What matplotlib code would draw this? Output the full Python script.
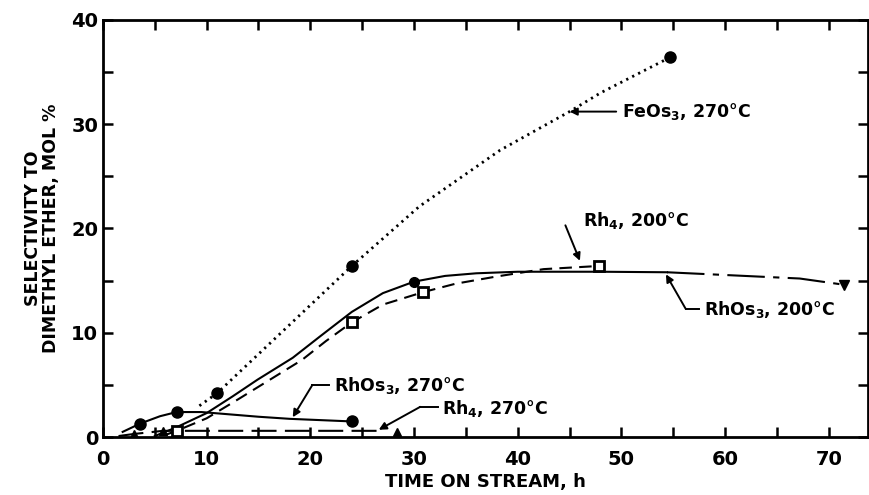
import matplotlib
matplotlib.use('Agg')
import matplotlib.pyplot as plt
from matplotlib.ticker import MultipleLocator

# marker data (time on stream, h / selectivity, mol %)
fe_pts_x = [11, 24, 54.7]
fe_pts_y = [4.2, 16.4, 36.4]
rhos200_pts_x = [30, 71.5]
rhos200_pts_y = [14.9, 14.6]
rh200_pts_x = [7.1, 24, 30.9, 47.8]
rh200_pts_y = [0.6, 11.0, 13.9, 16.4]
rhos270_pts_x = [3.6, 7.1, 24]
rhos270_pts_y = [1.3, 2.4, 1.5]
rh270_pts_x = [3.0, 5.8, 28.4]
rh270_pts_y = [0.3, 0.6, 0.5]

# hand drawn curves
fe_cx = [9.3, 11, 17.5, 24, 30.5, 38.3, 45, 48, 54.7]
fe_cy = [3.0, 4.2, 10.3, 16.4, 22.1, 27.5, 31.2, 33.0, 36.4]
rhos200_cx = [5.0, 7, 10, 12.5, 14.9, 18.3, 21, 24, 27, 30, 33, 36, 40, 48, 54.4]
rhos200_cy = [0.1, 0.9, 2.3, 3.9, 5.5, 7.6, 9.7, 12.0, 13.8, 14.9, 15.45, 15.7, 15.85, 15.85, 15.8]
rhos200_tx = [54.4, 60.8, 67.2, 71.5]
rhos200_ty = [15.8, 15.5, 15.2, 14.6]
rh200_cx = [6.0, 7.1, 10, 13, 16.1, 19.2, 21.5, 24, 27, 30.9, 34, 38, 42.5, 47.8]
rh200_cy = [0.2, 0.6, 1.8, 3.6, 5.5, 7.4, 9.2, 11.0, 12.7, 13.9, 14.7, 15.4, 16.1, 16.4]
rhos270_cx = [1.9, 3.6, 5.5, 7.1, 9.5, 15, 18, 24]
rhos270_cy = [0.5, 1.3, 2.0, 2.4, 2.4, 1.95, 1.75, 1.5]
rh270_cx = [1.5, 3.0, 5.8, 10, 20, 27]
rh270_cy = [0.1, 0.3, 0.6, 0.6, 0.6, 0.6]

fig = plt.figure(figsize=(8.69, 4.95), dpi=100)
ax = fig.add_axes([0.1185, 0.117, 0.8805, 0.843])

k = 'black'
ax.plot(fe_cx, fe_cy, color=k, lw=2.0, linestyle=(0, (0.8, 1.6)))
ax.plot(rhos200_cx, rhos200_cy, color=k, lw=1.5)
ax.plot(rhos200_tx, rhos200_ty, color=k, lw=1.5, linestyle=(0, (18, 4, 3, 4)))
ax.plot(rh200_cx, rh200_cy, color=k, lw=1.5, linestyle=(0, (6, 3.5)))
ax.plot(rhos270_cx, rhos270_cy, color=k, lw=1.5)
ax.plot(rh270_cx, rh270_cy, color=k, lw=1.5, linestyle=(0, (12, 4)))

ax.plot(fe_pts_x, fe_pts_y, 'o', color=k, ms=8)
ax.plot(rhos200_pts_x[:1], rhos200_pts_y[:1], 'o', color=k, ms=7)
ax.plot(rhos200_pts_x[1:], rhos200_pts_y[1:], 'v', color=k, ms=7)
ax.plot(rh200_pts_x, rh200_pts_y, 's', mfc='white', mec=k, mew=2, ms=7)
ax.plot(rhos270_pts_x, rhos270_pts_y, 'o', color=k, ms=8)
ax.plot(rh270_pts_x, rh270_pts_y, '^', color=k, ms=6)

ax.set_xlim(0, 73.8)
ax.set_ylim(0, 40)
ax.xaxis.set_major_locator(MultipleLocator(10))
ax.xaxis.set_minor_locator(MultipleLocator(5))
ax.yaxis.set_major_locator(MultipleLocator(10))
ax.yaxis.set_minor_locator(MultipleLocator(5))
ax.tick_params(which='both', direction='in', top=True, right=True,
               length=7, width=1.8, labelsize=14)
ax.tick_params(axis='x', pad=9)
for lab in ax.get_xticklabels() + ax.get_yticklabels():
    lab.set_fontweight('bold')
for s in ax.spines.values():
    s.set_linewidth(2)

ax.set_xlabel('TIME ON STREAM, h', fontsize=13, fontweight='bold', labelpad=3)
ax.set_ylabel('SELECTIVITY TO\nDIMETHYL ETHER, MOL %', fontsize=12.5,
              fontweight='bold', labelpad=8, linespacing=1.0)

arr = dict(arrowstyle='-|>', color=k, lw=1.4, mutation_scale=11, shrinkA=0, shrinkB=0)
tkw = dict(fontsize=12.5, fontweight='bold', va='center')

ax.text(50.1, 31.2, r'FeOs$_\mathbf{3}$, 270°C', **tkw)
ax.annotate('', xy=(45, 31.2), xytext=(49.5, 31.2), arrowprops=arr)

ax.text(46.3, 20.8, r'Rh$_\mathbf{4}$, 200°C', **tkw)
ax.annotate('', xy=(46.0, 16.9), xytext=(44.6, 20.3), arrowprops=arr)

ax.text(58.0, 12.2, r'RhOs$_\mathbf{3}$, 200°C', **tkw)
ax.plot([57.5, 56.2], [12.3, 12.3], color=k, lw=1.4)
ax.annotate('', xy=(54.3, 15.6), xytext=(56.2, 12.3), arrowprops=arr)

ax.text(22.3, 4.9, r'RhOs$_\mathbf{3}$, 270°C', **tkw)
ax.plot([21.8, 20.2], [5.0, 5.0], color=k, lw=1.4)
ax.annotate('', xy=(18.3, 1.9), xytext=(20.2, 5.0), arrowprops=arr)

ax.text(32.7, 2.7, r'Rh$_\mathbf{4}$, 270°C', **tkw)
ax.plot([32.3, 30.6], [2.9, 2.9], color=k, lw=1.4)
ax.annotate('', xy=(26.6, 0.7), xytext=(30.6, 2.9), arrowprops=arr)

fig.savefig('out.png', dpi=100)
